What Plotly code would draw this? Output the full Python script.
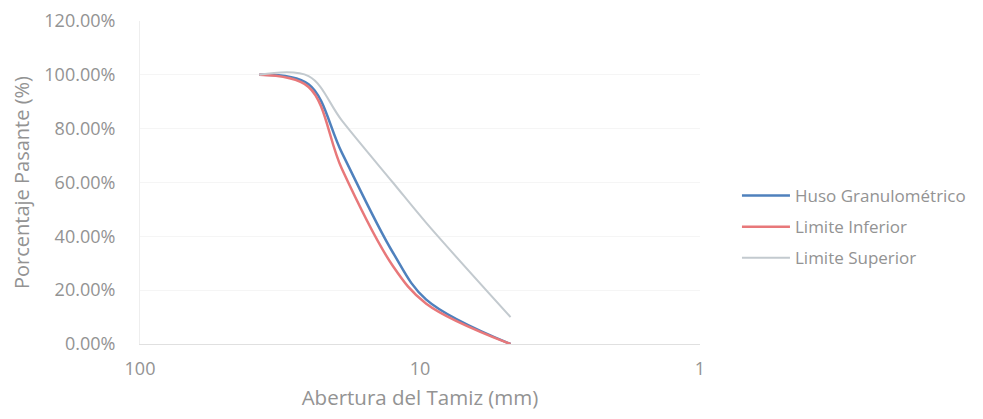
import plotly.graph_objects as go

# Sieve openings (mm)
sieve_mm = [37.5, 25.0, 19.0, 12.5, 9.5, 4.75]

# Percent passing (fraction)
huso = [1.00, 0.965, 0.71, 0.34, 0.165, 0.00]
limite_inferior = [1.00, 0.955, 0.65, 0.29, 0.15, 0.00]
limite_superior = [1.00, 0.995, 0.83, 0.60, 0.45, 0.10]

series_names = ["Huso Granulométrico", "Limite Inferior", "Limite Superior"]
y_ticks = [0, 0.2, 0.4, 0.6, 0.8, 1.0, 1.2]
x_ticks = [100, 10, 1]

font_family = "'Open Sans', sans-serif"
text_color = "#939393"

fig = go.Figure()
fig.add_trace(go.Scatter(x=sieve_mm, y=huso, name=series_names[0], mode="lines", legendgroup="a",
                         line=dict(color="#4f81bd", width=2.5, shape="spline", smoothing=1.0)))
fig.add_trace(go.Scatter(x=sieve_mm, y=limite_inferior, name=series_names[1], mode="lines", legendgroup="b",
                         line=dict(color="#e8787a", width=2.5, shape="spline", smoothing=1.0)))
fig.add_trace(go.Scatter(x=sieve_mm, y=limite_superior, name=series_names[2], mode="lines", legendgroup="c",
                         line=dict(color="#c3cacf", width=2, shape="spline", smoothing=1.0)))

fig.update_layout(
    width=975, height=411,
    margin=dict(l=132, r=283, t=13, b=75, autoexpand=False),
    paper_bgcolor="white", plot_bgcolor="white",
    font=dict(family=font_family, size=18, color=text_color),
    legend=dict(x=1.066, y=0.362, xanchor="left", yanchor="middle", xref="paper",
                font=dict(size=17, color=text_color), traceorder="grouped", tracegroupgap=6,
                itemwidth=48, bgcolor="rgba(0,0,0,0)"),
    showlegend=True,
)
fig.update_xaxes(
    type="log", range=[2, 0], tickvals=x_ticks, ticktext=[str(v) for v in x_ticks],
    showgrid=False, showline=True, linecolor="#e0e0e0", linewidth=1,
    zeroline=False, ticks="", tickfont=dict(size=18, color=text_color),
    ticklabelstandoff=8, automargin=False,
    title=dict(text="Abertura del Tamiz (mm)", font=dict(size=20.5, color=text_color), standoff=12),
)
fig.update_yaxes(
    range=[0, 1.2], tickvals=y_ticks, tickformat=".2%",
    showgrid=True, gridcolor="#f5f5f5", gridwidth=1,
    showline=True, linecolor="#eeeeee", linewidth=1,
    zeroline=False, ticks="", tickfont=dict(size=18, color=text_color),
    ticklabelstandoff=20, automargin=False,
    title=dict(text="Porcentaje Pasante (%)", font=dict(size=20, color=text_color), standoff=14),
)

fig.write_html("out.html")
